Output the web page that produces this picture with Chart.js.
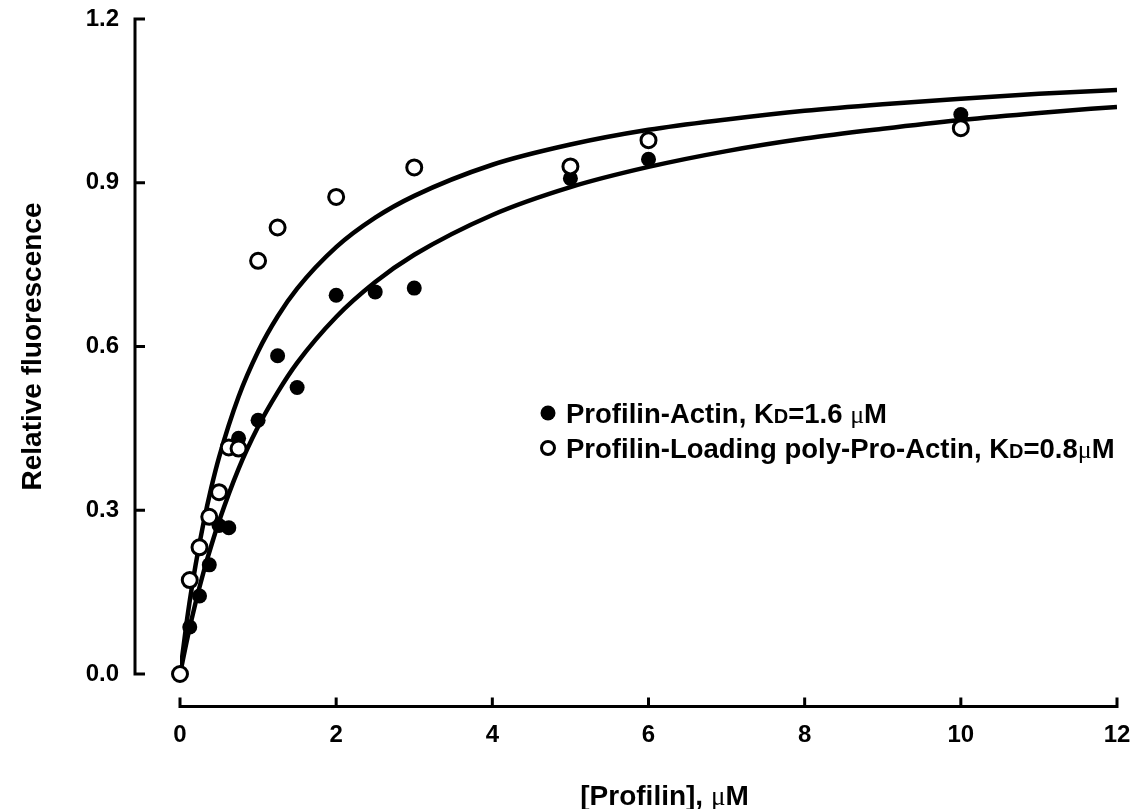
<!DOCTYPE html>
<html><head><meta charset="utf-8">
<script src="https://cdn.jsdelivr.net/npm/chart.js@4.4.1/dist/chart.umd.min.js"></script>
<style>html,body{margin:0;padding:0;background:#fff}canvas{display:block}</style>
</head><body>
<canvas id="c" width="1140" height="809"></canvas>
<script>
// ---- data ----
const xTicks = [0, 2, 4, 6, 8, 10, 12];
const yTicks = [0.0, 0.3, 0.6, 0.9, 1.2];

const actinX = [0, 0.125, 0.25, 0.375, 0.5, 0.625, 0.75, 1, 1.25, 1.5, 2, 2.5, 3, 5, 6, 10];
const actinY = [0, 0.086, 0.143, 0.200, 0.272, 0.268, 0.432, 0.465, 0.583, 0.525, 0.694, 0.700, 0.707, 0.908, 0.943, 1.025];

const plpX = [0, 0.125, 0.25, 0.375, 0.5, 0.625, 0.75, 1, 1.25, 2, 3, 5, 6, 10];
const plpY = [0, 0.172, 0.232, 0.288, 0.333, 0.415, 0.413, 0.757, 0.818, 0.874, 0.928, 0.930, 0.978, 1.000];

const curveX    = [0, 0.1, 0.2, 0.3, 0.4, 0.5, 0.75, 1, 1.25, 1.5, 2, 2.5, 3, 4, 5, 6, 7, 8, 9, 10, 11, 12];
const actinFitY = [0, 0.069, 0.131, 0.186, 0.235, 0.280, 0.376, 0.453, 0.516, 0.570, 0.654, 0.718, 0.768, 0.841, 0.892, 0.929, 0.958, 0.981, 0.999, 1.015, 1.028, 1.039];
const plpFitY   = [0, 0.110, 0.200, 0.276, 0.341, 0.397, 0.508, 0.591, 0.655, 0.706, 0.782, 0.836, 0.876, 0.933, 0.970, 0.997, 1.016, 1.032, 1.044, 1.054, 1.063, 1.070];

const seriesNames = ["Profilin-Actin", "Profilin-Loading poly-Pro-Actin"];
const kdValues = ["1.6", "0.8"];
const xTitleParts = ["[Profilin], ", "\u03BC", "M"];
const yTitle = "Relative fluorescence";

const FONT = "'Liberation Sans', Arial, Helvetica, sans-serif";
const MUFONT = "'Liberation Serif', 'Times New Roman', serif";

const pts = (xs, ys) => xs.map((x, i) => ({x, y: ys[i]}));

function drawParts(ctx, parts, x, base) {
  parts.forEach(p => { ctx.font = p.f; ctx.fillText(p.t, x, base); x += ctx.measureText(p.t).width; });
}
function partsWidth(ctx, parts) {
  let w = 0;
  parts.forEach(p => { ctx.font = p.f; w += ctx.measureText(p.t).width; });
  return w;
}

// offset axes (SigmaPlot style) drawn from the chart's own scales
const offsetAxes = {
  id: 'offsetAxes',
  afterDraw(chart) {
    const {ctx, chartArea: a, scales: {x, y}} = chart;
    const ax = a.left - 45, ay = a.bottom + 32.5;
    ctx.save();
    ctx.strokeStyle = '#000';
    ctx.lineWidth = 3;
    ctx.lineCap = 'butt';
    ctx.lineJoin = 'miter';
    const yTop = y.getPixelForValue(yTicks[yTicks.length - 1]);
    const yBot = y.getPixelForValue(yTicks[0]);
    ctx.beginPath();
    ctx.moveTo(ax + 10, yTop); ctx.lineTo(ax, yTop); ctx.lineTo(ax, yBot); ctx.lineTo(ax + 10, yBot);
    yTicks.slice(1, -1).forEach(v => { const p = y.getPixelForValue(v); ctx.moveTo(ax, p); ctx.lineTo(ax + 10, p); });
    ctx.stroke();
    const xL = x.getPixelForValue(xTicks[0]);
    const xR = x.getPixelForValue(xTicks[xTicks.length - 1]);
    ctx.beginPath();
    ctx.moveTo(xL, ay - 9); ctx.lineTo(xL, ay); ctx.lineTo(xR, ay); ctx.lineTo(xR, ay - 9);
    xTicks.slice(1, -1).forEach(v => { const p = x.getPixelForValue(v); ctx.moveTo(p, ay); ctx.lineTo(p, ay - 9); });
    ctx.stroke();

    // x axis title with a light mu
    ctx.fillStyle = '#000';
    ctx.textBaseline = 'alphabetic';
    ctx.textAlign = 'left';
    const tp = [
      {t: xTitleParts[0], f: "bold 28px " + FONT},
      {t: xTitleParts[1], f: "27px " + MUFONT},
      {t: xTitleParts[2], f: "bold 28px " + FONT}
    ];
    const w = partsWidth(ctx, tp);
    const cx = (xL + xR) / 2 + 16;
    drawParts(ctx, tp, cx - w / 2, a.bottom + 131);
    ctx.restore();
  }
};

// legend with small D and mu
const richLegend = {
  id: 'richLegend',
  afterDraw(chart) {
    const {ctx, chartArea: a} = chart;
    const mx = a.left + 368;
    const rows = [a.top + 394, a.top + 429];
    ctx.save();
    ctx.fillStyle = '#000';
    ctx.strokeStyle = '#000';
    rows.forEach((cy, i) => {
      ctx.beginPath();
      if (i === 0) {
        ctx.arc(mx, cy, 7.5, 0, Math.PI * 2); ctx.fill();
      } else {
        ctx.lineWidth = 3; ctx.arc(mx, cy, 6.5, 0, Math.PI * 2); ctx.stroke();
      }
      const parts = [
        {t: seriesNames[i] + ", K", f: "bold 27.5px " + FONT},
        {t: "D", f: "bold 20px " + FONT},
        {t: "=" + kdValues[i] + (i === 0 ? " " : ""), f: "bold 27.5px " + FONT},
        {t: "\u03BC", f: "26px " + MUFONT},
        {t: "M", f: "bold 27.5px " + FONT}
      ];
      ctx.textBaseline = 'alphabetic';
      ctx.textAlign = 'left';
      drawParts(ctx, parts, mx + 18, cy + 10);
    });
    ctx.restore();
  }
};

new Chart(document.getElementById('c'), {
  type: 'scatter',
  data: {
    datasets: [
      {
        label: seriesNames[1], data: pts(plpX, plpY), clip: false,
        pointRadius: 7.5, pointBorderWidth: 3, pointBackgroundColor: '#fff', pointBorderColor: '#000',
        showLine: false
      },
      {
        label: seriesNames[0], data: pts(actinX, actinY), clip: false,
        pointRadius: 7.5, pointBorderWidth: 0, pointBackgroundColor: '#000', pointBorderColor: '#000',
        showLine: false
      },
      {
        label: 'fit ' + seriesNames[1], data: pts(curveX, plpFitY),
        showLine: true, pointRadius: 0, borderColor: '#000', borderWidth: 4.5,
        cubicInterpolationMode: 'monotone', fill: false
      },
      {
        label: 'fit ' + seriesNames[0], data: pts(curveX, actinFitY),
        showLine: true, pointRadius: 0, borderColor: '#000', borderWidth: 4.5,
        cubicInterpolationMode: 'monotone', fill: false
      }
    ]
  },
  options: {
    responsive: false,
    animation: false,
    devicePixelRatio: 1,
    layout: {padding: {top: 19, right: 23, bottom: 0, left: 0}},
    plugins: {legend: {display: false}, tooltip: {enabled: false}},
    scales: {
      x: {
        type: 'linear', min: 0, max: 12,
        afterBuildTicks: s => { s.ticks = xTicks.map(v => ({value: v})); },
        afterFit: s => { s.height = 135; s.paddingLeft = 0; s.paddingRight = 0; },
        grid: {display: false, drawTicks: false},
        border: {display: false},
        ticks: {padding: 47, color: '#000', font: {family: FONT, size: 24, weight: 'bold'}, callback: v => String(v)},
        title: {display: false}
      },
      y: {
        type: 'linear', min: 0, max: 1.2,
        afterBuildTicks: s => { s.ticks = yTicks.map(v => ({value: v})); },
        afterFit: s => { s.width = 180; s.paddingTop = 0; s.paddingBottom = 0; },
        grid: {display: false, drawTicks: false},
        border: {display: false},
        ticks: {padding: 61, color: '#000', font: {family: FONT, size: 24, weight: 'bold'}, callback: v => Number(v).toFixed(1)},
        title: {display: true, text: yTitle, color: '#000', padding: {top: 19, bottom: 0},
                font: {family: FONT, size: 28, weight: 'bold', lineHeight: 1}}
      }
    }
  },
  plugins: [offsetAxes, richLegend]
});
</script>
</body></html>
